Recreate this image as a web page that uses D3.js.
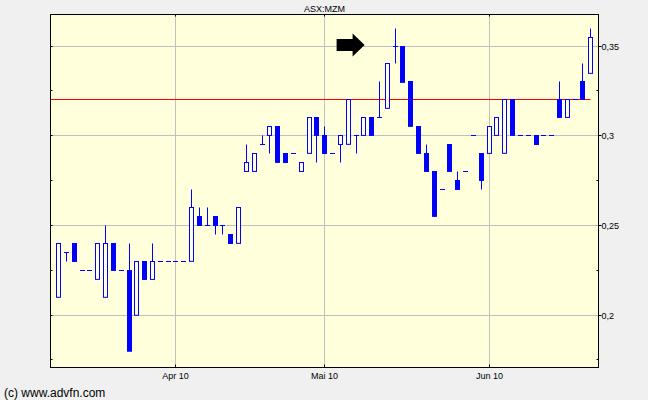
<!DOCTYPE html>
<html>
  <head>
    <meta charset="UTF-8" />
    <title>ASX:MZM</title>
    <style>
      body { margin: 0; background: #f0f0f0; }
      svg { display: block; }
      text { font-family: "Liberation Sans", Arial, sans-serif; fill: #000; }
    </style>
  </head>
  <body>
    <svg></svg>
    <script src="https://d3js.org/d3.v7.min.js"></script>
    <script>
      // trading days, 11 Mar 2010 .. 21 Jun 2010
      var dates = [
        "2010-03-11","2010-03-12","2010-03-15","2010-03-16","2010-03-17","2010-03-18","2010-03-19",
        "2010-03-22","2010-03-23","2010-03-24","2010-03-25","2010-03-26","2010-03-29","2010-03-30","2010-03-31",
        "2010-04-01","2010-04-06","2010-04-07","2010-04-08","2010-04-09",
        "2010-04-12","2010-04-13","2010-04-14","2010-04-15","2010-04-16",
        "2010-04-19","2010-04-20","2010-04-21","2010-04-22","2010-04-23",
        "2010-04-27","2010-04-28","2010-04-29","2010-04-30",
        "2010-05-03","2010-05-04","2010-05-05","2010-05-06","2010-05-07",
        "2010-05-10","2010-05-11","2010-05-12","2010-05-13","2010-05-14",
        "2010-05-17","2010-05-18","2010-05-19","2010-05-20","2010-05-21",
        "2010-05-24","2010-05-25","2010-05-26","2010-05-27","2010-05-28","2010-05-31",
        "2010-06-01","2010-06-02","2010-06-03","2010-06-04",
        "2010-06-07","2010-06-08","2010-06-09","2010-06-10","2010-06-11",
        "2010-06-15","2010-06-16","2010-06-17","2010-06-18","2010-06-21"
      ];
      var opens = [
        0.21,0.235,0.24,0.225,0.225,0.22,0.21,0.24,0.225,0.225,0.2,0.23,0.22,0.23,0.23,
        0.23,0.23,0.23,0.255,0.25,0.255,0.25,0.245,0.24,0.28,0.28,0.295,0.3,0.305,0.29,
        0.29,0.28,0.29,0.31,0.3,0.29,0.295,0.295,0.3,0.3,0.31,0.31,0.315,0.35,0.35,
        0.33,0.305,0.29,0.28,0.27,0.295,0.275,0.28,0.3,0.29,0.29,0.3,0.29,0.32,
        0.3,0.3,0.3,0.3,0.3,0.32,0.31,0.32,0.33,0.335
      ];
      var highs = [
        0.24,0.235,0.24,0.225,0.225,0.24,0.25,0.24,0.225,0.24,0.23,0.23,0.24,0.23,0.23,
        0.23,0.23,0.27,0.26,0.26,0.255,0.25,0.245,0.26,0.295,0.29,0.3,0.305,0.305,0.29,
        0.29,0.285,0.31,0.31,0.305,0.29,0.3,0.32,0.3,0.31,0.31,0.33,0.34,0.36,0.35,
        0.33,0.305,0.295,0.28,0.27,0.295,0.28,0.28,0.3,0.29,0.305,0.31,0.32,0.32,
        0.3,0.3,0.3,0.3,0.3,0.33,0.32,0.32,0.34,0.36
      ];
      var lows = [
        0.21,0.23,0.23,0.225,0.225,0.22,0.21,0.225,0.225,0.18,0.2,0.22,0.22,0.23,0.23,
        0.23,0.23,0.23,0.25,0.25,0.245,0.245,0.24,0.24,0.28,0.28,0.295,0.29,0.285,0.285,
        0.29,0.28,0.29,0.285,0.29,0.29,0.285,0.295,0.29,0.3,0.3,0.31,0.315,0.34,0.33,
        0.305,0.29,0.28,0.255,0.27,0.28,0.27,0.28,0.3,0.27,0.29,0.3,0.29,0.3,
        0.3,0.3,0.295,0.3,0.3,0.31,0.31,0.32,0.32,0.335
      ];
      var closes = [
        0.24,0.235,0.23,0.225,0.225,0.24,0.24,0.225,0.225,0.18,0.23,0.22,0.23,0.23,0.23,
        0.23,0.23,0.26,0.25,0.25,0.25,0.25,0.24,0.26,0.285,0.29,0.295,0.305,0.285,0.285,
        0.29,0.285,0.31,0.3,0.29,0.29,0.3,0.32,0.3,0.31,0.3,0.31,0.34,0.35,0.33,
        0.305,0.29,0.28,0.255,0.27,0.28,0.27,0.28,0.3,0.275,0.305,0.31,0.32,0.3,
        0.3,0.3,0.295,0.3,0.3,0.31,0.32,0.32,0.32,0.355
      ];
      var monthTicks = ["2010-04-01", "2010-05-03", "2010-06-01"];
      var monthLabels = ["Apr 10", "Mai 10", "Jun 10"];
      var yMajor = [0.2, 0.25, 0.3, 0.35];
      var yMinor = [0.175, 0.225, 0.275, 0.325];
      var yLabels = ["0,2", "0,25", "0,3", "0,35"];
      var refLevel = 0.32;
      var arrowAt = { index: 39.1, value: 0.3505 };

      let width = 648, height = 400;
      let svg = d3.select("svg").attr("width", width).attr("height", height);

      var plotLeft = 50.5, plotRight = 598.5, plotTop = 14.5, plotBottom = 367.5;
      var x = d3.scaleLinear().domain([0, dates.length - 1]).range([58.6, 590.8]);
      var y = d3.scaleLinear().domain([0.2, 0.35]).range([315, 46]);
      var px = function (v) { return Math.floor(v) + 0.5; };
      var plotBg = "#ffffdc";

      // background of plot
      svg.append("rect")
        .attr("x", plotLeft).attr("y", plotTop)
        .attr("width", plotRight - plotLeft).attr("height", plotBottom - plotTop)
        .attr("fill", plotBg);

      // grid
      var grid = svg.append("g").attr("stroke", "#c0c0c0").attr("stroke-width", 1);
      grid.selectAll("line.h").data(yMajor).enter().append("line")
        .attr("x1", plotLeft).attr("x2", plotRight)
        .attr("y1", (d) => px(y(d))).attr("y2", (d) => px(y(d)));
      grid.selectAll("line.v").data(monthTicks).enter().append("line")
        .attr("x1", (d) => px(x(dates.indexOf(d)))).attr("x2", (d) => px(x(dates.indexOf(d))))
        .attr("y1", plotTop).attr("y2", plotBottom);

      // reference line
      svg.append("line")
        .attr("x1", plotLeft).attr("x2", px(x(dates.length - 1)))
        .attr("y1", px(y(refLevel))).attr("y2", px(y(refLevel)))
        .style("stroke", "#ff0000").attr("stroke-width", 1);

      // candles
      var idx = d3.range(dates.length);
      var candles = svg.append("g").style("stroke", "#0000ff").attr("stroke-width", 1);
      candles.selectAll("line.wick").data(idx).enter().append("line")
        .attr("x1", (i) => px(x(i))).attr("x2", (i) => px(x(i)))
        .attr("y1", (i) => px(y(highs[i]))).attr("y2", (i) => px(y(lows[i])));
      candles.selectAll("rect").data(idx.filter((i) => opens[i] !== closes[i])).enter().append("rect")
        .attr("x", (i) => px(x(i)) - 2)
        .attr("width", 4)
        .attr("y", (i) => px(y(Math.max(opens[i], closes[i]))))
        .attr("height", (i) => Math.abs(y(opens[i]) - y(closes[i])))
        .attr("fill", (i) => (closes[i] < opens[i] ? "#0000ff" : plotBg));
      candles.selectAll("line.doji").data(idx.filter((i) => opens[i] === closes[i])).enter().append("line")
        .attr("x1", (i) => px(x(i)) - 2.5).attr("x2", (i) => px(x(i)) + 2.5)
        .attr("y1", (i) => px(y(closes[i]))).attr("y2", (i) => px(y(closes[i])));

      // frame
      svg.append("rect")
        .attr("x", plotLeft).attr("y", plotTop)
        .attr("width", plotRight - plotLeft).attr("height", plotBottom - plotTop)
        .attr("fill", "none").attr("stroke", "#000").attr("stroke-width", 1);

      // ticks
      var ticks = svg.append("g").attr("stroke", "#000").attr("stroke-width", 1);
      yMajor.forEach(function (v) {
        ticks.append("line").attr("x1", plotRight).attr("x2", plotRight + 3).attr("y1", px(y(v))).attr("y2", px(y(v)));
        ticks.append("line").attr("x1", plotLeft).attr("x2", plotLeft + 2).attr("y1", px(y(v))).attr("y2", px(y(v)));
      });
      yMinor.forEach(function (v) {
        ticks.append("line").attr("x1", plotRight - 2).attr("x2", plotRight).attr("y1", px(y(v))).attr("y2", px(y(v)));
        ticks.append("line").attr("x1", plotLeft).attr("x2", plotLeft + 2).attr("y1", px(y(v))).attr("y2", px(y(v)));
      });
      monthTicks.forEach(function (d) {
        var gx = px(x(dates.indexOf(d)));
        ticks.append("line").attr("x1", gx).attr("x2", gx).attr("y1", plotTop).attr("y2", plotTop + 2);
        ticks.append("line").attr("x1", gx).attr("x2", gx).attr("y1", plotBottom - 3).attr("y2", plotBottom);
      });

      // labels
      svg.selectAll("text.ylab").data(yMajor).enter().append("text")
        .attr("x", plotRight + 3).attr("y", (d) => y(d) + 3.5)
        .style("font-size", "9px")
        .text((d, i) => yLabels[i]);
      svg.selectAll("text.xlab").data(monthTicks).enter().append("text")
        .attr("x", (d) => px(x(dates.indexOf(d))))
        .attr("y", 378.5)
        .attr("text-anchor", "middle")
        .style("font-size", "9px")
        .text((d, i) => monthLabels[i]);

      svg.append("text")
        .attr("x", (plotLeft + plotRight) / 2).attr("y", 12)
        .attr("text-anchor", "middle")
        .style("font-size", "9px")
        .text("ASX:MZM");

      svg.append("text")
        .attr("x", 4).attr("y", 397)
        .style("font-size", "12px")
        .text("(c) www.advfn.com");

      // arrow annotation
      var ax = x(arrowAt.index), ay = y(arrowAt.value);
      svg.append("path")
        .attr("d", "M" + (ax - 28) + "," + (ay - 6) + "H" + (ax - 12) + "V" + (ay - 11.5) +
          "L" + ax + "," + ay + "L" + (ax - 12) + "," + (ay + 11.5) + "V" + (ay + 6) +
          "H" + (ax - 28) + "Z")
        .attr("fill", "#000");
    </script>
  </body>
</html>
